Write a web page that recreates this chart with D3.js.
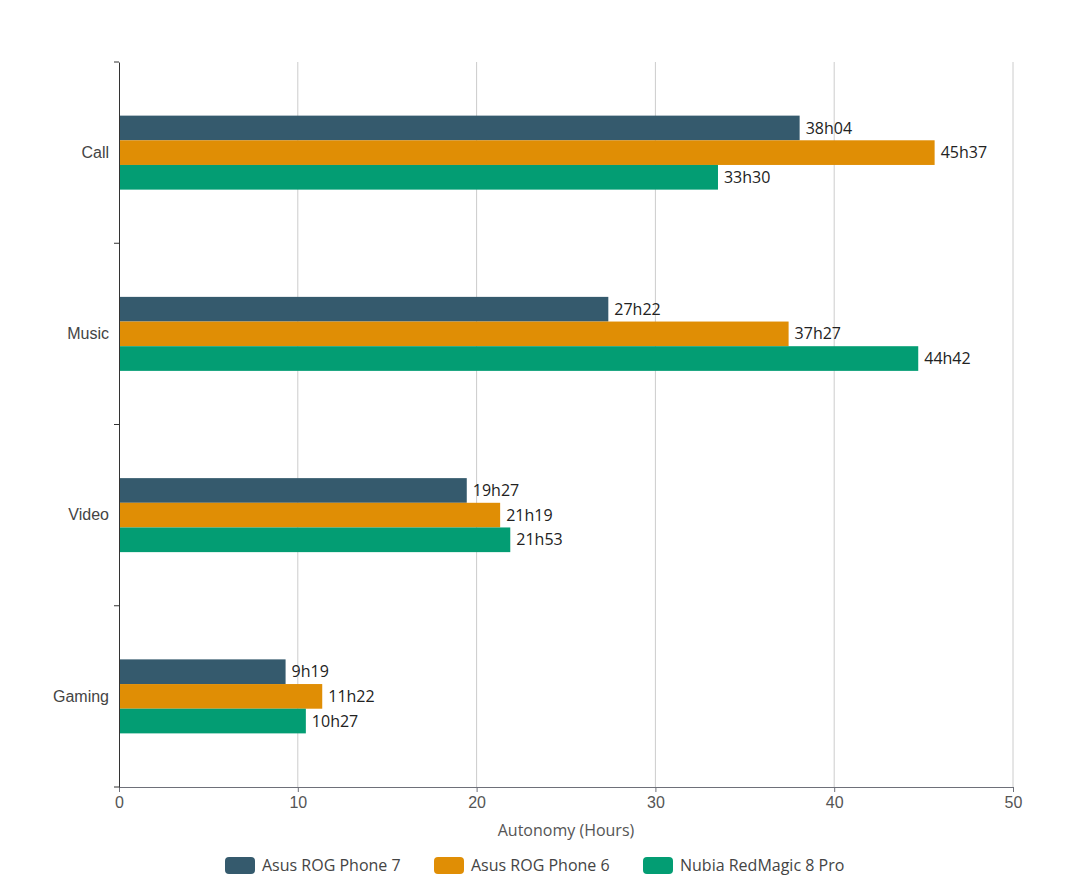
<!DOCTYPE html>
<html>
<head>
<meta charset="utf-8">
<script src="https://cdn.jsdelivr.net/npm/d3@7/dist/d3.min.js"></script>
<style>
  body { margin: 0; background: #fff; }
  svg { font-family: "Open Sans", "Noto Sans", sans-serif; }
</style>
</head>
<body>
<svg></svg>
<script>
var categories = ['Call', 'Music', 'Video', 'Gaming'];
var seriesNames = ['Asus ROG Phone 7', 'Asus ROG Phone 6', 'Nubia RedMagic 8 Pro'];
var seriesColors = ['#355a6d', '#e08e05', '#039d73'];
// hours and minutes per category, in series order
var seriesValues = [
  [[38, 4], [27, 22], [19, 27], [9, 19]],
  [[45, 37], [37, 27], [21, 19], [11, 22]],
  [[33, 30], [44, 42], [21, 53], [10, 27]]
];
var xTicks = [0, 10, 20, 30, 40, 50];

var width = 1066, height = 875;
var margin = {top: 62, right: 53, bottom: 88, left: 119};
var svg = d3.select('svg').attr('width', width).attr('height', height);

var x = d3.scaleLinear().domain([0, 50]).range([margin.left, width - margin.right]);
var y = d3.scaleBand().domain(categories).range([margin.top, height - margin.bottom]);
var inner = d3.scaleBand().domain(seriesNames).range([-37, 37]);

// grid
svg.append('g').selectAll('line')
  .data(xTicks.slice(1))
  .enter().append('line')
  .attr('x1', d => x(d)).attr('x2', d => x(d))
  .attr('y1', margin.top).attr('y2', height - margin.bottom)
  .attr('stroke', '#ccc');

var data = [];
seriesValues.forEach(function(s, si) {
  s.forEach(function(v, ci) {
    data.push({cat: categories[ci], series: seriesNames[si], color: seriesColors[si],
      value: v[0] + v[1] / 60, label: v[0] + 'h' + (v[1] < 10 ? '0' : '') + v[1]});
  });
});

svg.append('g').selectAll('rect')
  .data(data)
  .enter().append('rect')
  .attr('x', x(0))
  .attr('y', d => y(d.cat) + y.bandwidth() / 2 + inner(d.series))
  .attr('width', d => x(d.value) - x(0))
  .attr('height', inner.bandwidth())
  .attr('fill', d => d.color);

svg.append('g').selectAll('text')
  .data(data)
  .enter().append('text')
  .attr('x', d => x(d.value) + 6)
  .attr('y', d => y(d.cat) + y.bandwidth() / 2 + inner(d.series) + inner.bandwidth() / 2)
  .attr('dy', '0.35em')
  .attr('font-size', 16)
  .attr('fill', '#222')
  .text(d => d.label);

// x axis
var xAxis = svg.append('g')
  .attr('transform', 'translate(0,' + (height - margin.bottom) + ')')
  .call(d3.axisBottom(x).tickValues(xTicks).tickSize(5).tickPadding(5));
xAxis.select('.domain').attr('stroke', '#6e7079');
xAxis.selectAll('.tick line').attr('stroke', '#6e7079');
xAxis.selectAll('text').attr('font-size', 16).attr('fill', '#555').attr('font-family', null);

// y axis
var yAxis = svg.append('g')
  .attr('transform', 'translate(' + margin.left + ',0)')
  .call(d3.axisLeft(y).tickSize(0).tickPadding(10));
yAxis.select('.domain').attr('stroke', '#333');
yAxis.selectAll('text').attr('font-size', 16).attr('fill', '#444').attr('font-family', null);
var yEdges = categories.map(c => y(c)).concat([y.range()[1]]);
yAxis.selectAll('.edge').data(yEdges).enter().append('line')
  .attr('x1', -5).attr('x2', 0)
  .attr('y1', d => d).attr('y2', d => d)
  .attr('stroke', '#333');

svg.append('text')
  .attr('x', (x(0) + x(50)) / 2)
  .attr('y', 836)
  .attr('text-anchor', 'middle')
  .attr('font-size', 16)
  .attr('fill', '#555')
  .text('Autonomy (Hours)');

// legend
var legendX = [225, 434, 643];
var legend = svg.append('g').selectAll('g')
  .data(seriesNames)
  .enter().append('g')
  .attr('transform', (d, i) => 'translate(' + legendX[i] + ',857)');
legend.append('rect')
  .attr('width', 30).attr('height', 17).attr('rx', 4)
  .attr('fill', (d, i) => seriesColors[i]);
legend.append('text')
  .attr('x', 37).attr('y', 8.5).attr('dy', '0.35em')
  .attr('font-size', 16).attr('fill', '#444')
  .text(d => d);
</script>
</body>
</html>
